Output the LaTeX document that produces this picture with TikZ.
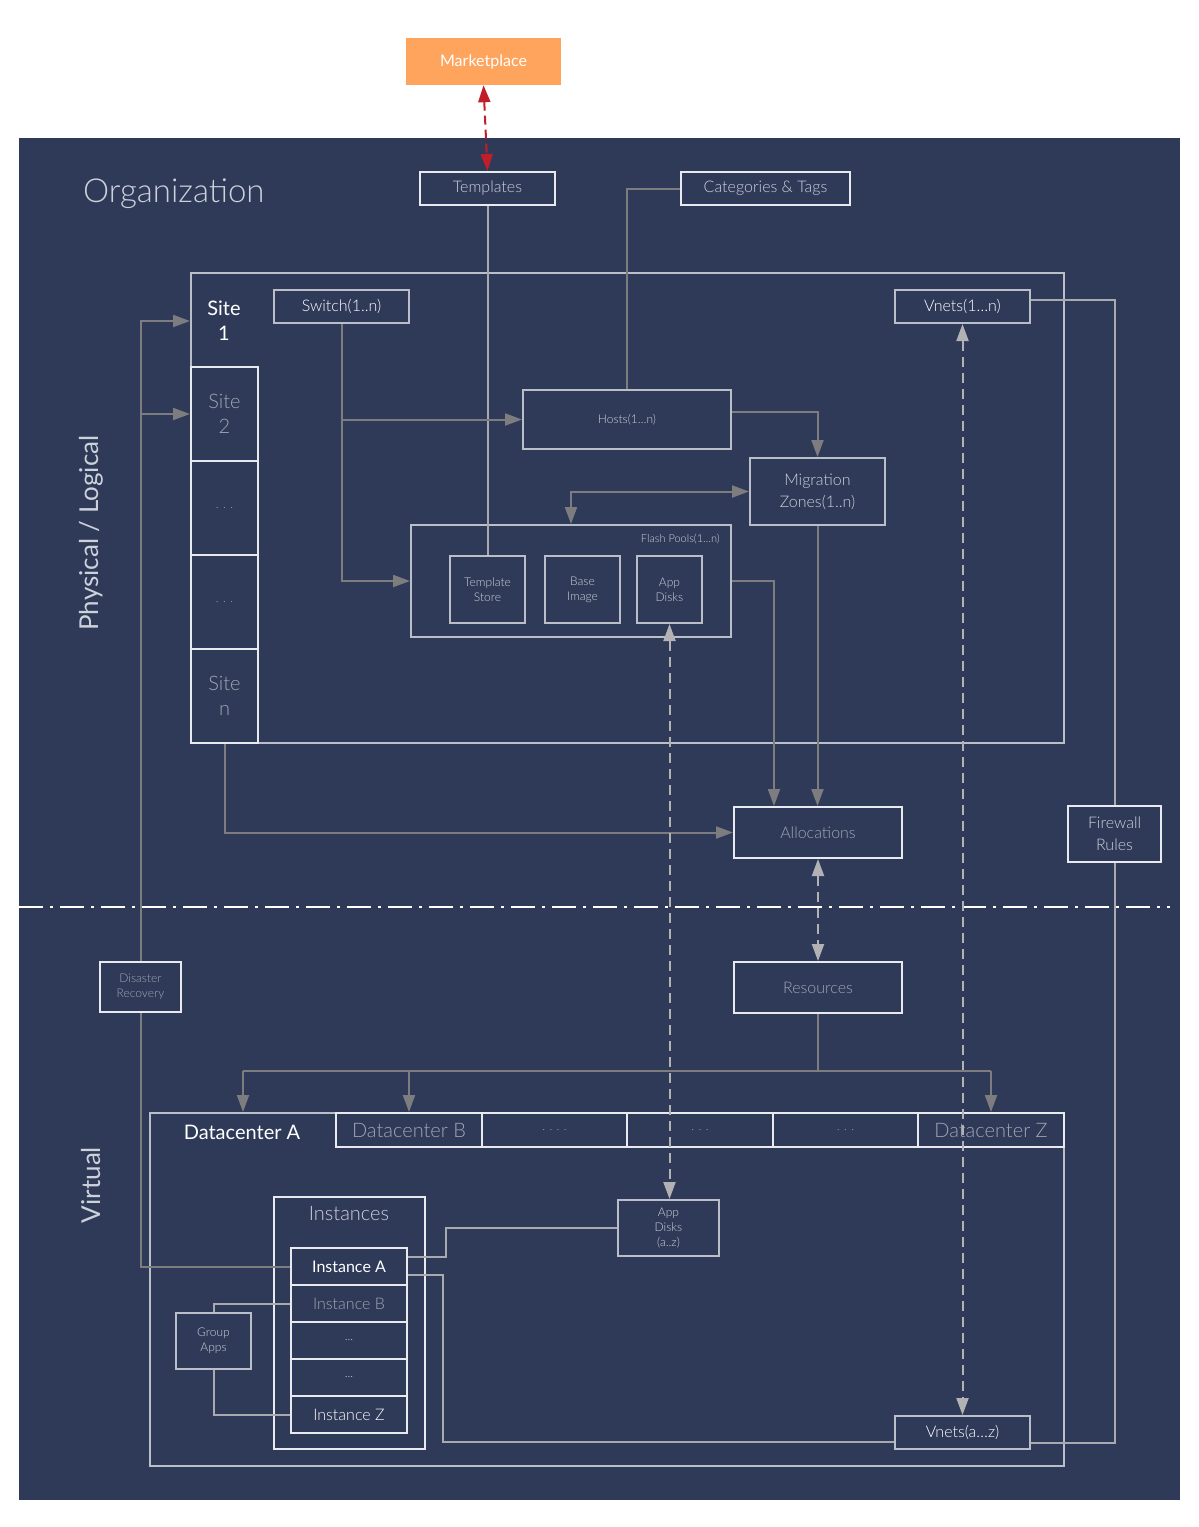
\documentclass[tikz,border=0pt]{standalone}
\usepackage{fontspec}
\IfFontExistsTF{Lato Light}{\setmainfont{Lato Light}[BoldFont=Lato]}{\setmainfont{Lato}[BoldFont=Lato]}
\usetikzlibrary{arrows.meta}
\definecolor{bgblue}{RGB}{46,58,88}
\definecolor{mktorange}{RGB}{255,164,92}
\definecolor{mktred}{RGB}{192,30,40}
\definecolor{boxW}{RGB}{232,234,240}
\definecolor{boxG}{RGB}{186,190,200}
\definecolor{connD}{RGB}{125,125,128}
\definecolor{connL}{RGB}{168,170,175}
\definecolor{dashC}{RGB}{178,178,180}
\definecolor{txtL}{RGB}{205,209,218}
\definecolor{txtD}{RGB}{160,166,180}
\newcommand\fsXL{\fontsize{33}{40}\selectfont}
\newcommand\fsL{\fontsize{26}{30}\selectfont}
\newcommand\fsM{\fontsize{20}{25}\selectfont}
\newcommand\fsN{\fontsize{16}{22}\selectfont}
\newcommand\fsS{\fontsize{12}{15}\selectfont}
\newcommand\fsT{\fontsize{11}{14}\selectfont}
\begin{document}
\begin{tikzpicture}[x=1pt,y=-1pt,
  box/.style={draw=boxW, line width=2pt, inner sep=0pt, align=center, text=txtL, font=\fsN},
  gbox/.style={box, draw=boxG},
  conn/.style={draw=connD, line width=2pt},
  connl/.style={draw=connL, line width=2pt},
  arr/.style={-{Triangle[length=17pt,width=12pt]}},
  darr/.style={{Triangle[length=17pt,width=12pt]}-{Triangle[length=17pt,width=12pt]}},
  dashln/.style={draw=dashC, line width=2pt, dash pattern=on 10pt off 6pt},
  lbl/.style={inner sep=0pt, align=center}
]
\useasboundingbox (0,0) rectangle (1199,1527);
\fill[white] (0,0) rectangle (1199,1527);
\fill[bgblue] (19,138) rectangle (1180,1500);

% top
\node[lbl, fill=mktorange, minimum width=155pt, minimum height=47pt, text=white, font=\bfseries\fsN] (mkt) at (483.5,61.5) {Marketplace};
\node[lbl, text=txtL, font=\fsXL, anchor=west] (org) at (83,194) {Organization};
\node[box, minimum width=135pt, minimum height=33pt] (tmpl) at (487.5,188.5) {Templates};
\node[box, minimum width=169pt, minimum height=33pt] (cat) at (765.5,188.5) {Categories \& Tags};

% side labels
\node[lbl, text=txtL, font=\bfseries\fsL, rotate=90] (phys) at (91,533) {Physical / Logical};
\node[lbl, text=txtL, font=\bfseries\fsL, rotate=90] (virt) at (91,1185) {Virtual};

% site region
\node[gbox, minimum width=873pt, minimum height=470pt] (site) at (627.5,508) {};
\node[lbl, text=white, font=\bfseries\fsM] (site1) at (224,321) {Site\\1};
\node[box, minimum width=67pt, minimum height=94pt, text=txtD, font=\fsM] (site2) at (224.5,414) {Site\\2};
\node[box, minimum width=67pt, minimum height=94pt, text=txtD, font=\fsS] (sdotsA) at (224.5,508) {. . .};
\node[box, minimum width=67pt, minimum height=94pt, text=txtD, font=\fsS] (sdotsB) at (224.5,602) {. . .};
\node[box, minimum width=67pt, minimum height=94pt, text=txtD, font=\fsM] (siten) at (224.5,696) {Site\\n};
\node[gbox, minimum width=135pt, minimum height=33pt, text=white] (switch) at (341.5,306.5) {Switch(1..n)};
\node[gbox, minimum width=135pt, minimum height=33pt, text=white] (vnets1) at (962.5,306.5) {Vnets(1…n)};
\node[gbox, minimum width=208pt, minimum height=59pt, font=\fsS] (hosts) at (627,419.5) {Hosts(1…n)};
\node[gbox, minimum width=135pt, minimum height=67pt] (mig) at (817.5,491.5) {Migration\\Zones(1..n)};
\node[gbox, minimum width=320pt, minimum height=112pt] (flash) at (571,581) {};
\node[lbl, text=txtL, font=\fsT, anchor=east] (flashlbl) at (720,539) {Flash Pools(1…n)};
\node[gbox, minimum width=75pt, minimum height=67pt, font=\fsS] (tstore) at (487.5,589.5) {Template\\Store};
\node[gbox, minimum width=75pt, minimum height=67pt, font=\fsS] (bimg) at (582.5,589.5) {Base\\Image};
\node[gbox, minimum width=65pt, minimum height=67pt, font=\fsS] (adisk) at (669.5,589.5) {App\\Disks};

\node[box, minimum width=168pt, minimum height=51pt, text=txtD] (alloc) at (818,832.5) {Allocations};
\node[box, minimum width=93pt, minimum height=56pt] (fw) at (1114.5,834) {Firewall\\Rules};
\node[box, minimum width=81pt, minimum height=50pt, text=txtD, font=\fsS] (dr) at (140.5,987) {Disaster\\Recovery};
\node[box, minimum width=168pt, minimum height=51pt, text=txtD] (res) at (818,987.5) {Resources};

% divider
\coordinate (divL) at (19,907);
\coordinate (divR) at (1170,907);
\draw[white, line width=2pt, dash pattern=on 24pt off 7pt on 3pt off 7pt] (divL) -- (divR);

% datacenter region
\node[gbox, minimum width=914pt, minimum height=353pt] (dc) at (607,1289.5) {};
\node[lbl, text=white, font=\bfseries\fsM] (dcA) at (242,1132) {Datacenter A};
\node[box, minimum width=146pt, minimum height=34pt, text=txtD, font=\fsM] (dcB) at (409,1130) {Datacenter B};
\node[box, minimum width=145pt, minimum height=34pt, text=txtD, font=\fsS] (tabA) at (554.5,1130) {. . . .};
\node[box, minimum width=146pt, minimum height=34pt, text=txtD, font=\fsS] (tabB) at (700,1130) {. . .};
\node[box, minimum width=145pt, minimum height=34pt, text=txtD, font=\fsS] (tabC) at (845.5,1130) {. . .};
\node[box, minimum width=146pt, minimum height=34pt, text=txtD, font=\fsM] (dcZ) at (991,1130) {Datacenter Z};

\node[box, minimum width=151pt, minimum height=252pt] (inst) at (349.5,1323) {};
\node[lbl, text=txtL, font=\fsM] (instlbl) at (349,1213) {Instances};
\node[box, minimum width=116pt, minimum height=37pt, text=white, font=\bfseries\fsN] (instA) at (349,1266.5) {Instance A};
\node[box, minimum width=116pt, minimum height=37pt, text=txtD] (instB) at (349,1303.5) {Instance B};
\node[box, minimum width=116pt, minimum height=37pt, font=\fsS] (instC) at (349,1340.5) {...};
\node[box, minimum width=116pt, minimum height=37pt, font=\fsS] (instD) at (349,1377.5) {...};
\node[box, minimum width=116pt, minimum height=37pt, text=white] (instZ) at (349,1414.5) {Instance Z};
\node[gbox, minimum width=101pt, minimum height=56pt, font=\fsS] (adz) at (668.5,1228) {App\\Disks\\(a..z)};
\node[gbox, minimum width=135pt, minimum height=33pt, text=white] (vnz) at (962.5,1432.5) {Vnets(a…z)};
\node[gbox, minimum width=75pt, minimum height=56pt, font=\fsS] (grp) at (213.5,1341) {Group\\Apps};

% connectors
\draw[mktred, line width=2pt, dash pattern=on 9pt off 5pt, darr] (mkt.south) -- (tmpl.north);
\draw[connl] (tmpl.south) -- (tstore.north);
\draw[conn] (cat.west) -| (hosts.north);
\draw[conn, arr] (switch.south) |- (hosts.west);
\draw[conn, arr] (switch.south) |- (flash.west);
\draw[conn, arr] ([yshift=7.5pt]hosts.east) -| (mig.north);
\draw[conn, darr] (mig.west) -| (flash.north);
\draw[conn, arr] (flash.east) -| ([xshift=-44pt]alloc.north);
\draw[conn, arr] (mig.south) -- (mig.south |- alloc.north);
\draw[conn, arr] (siten.south) |- (alloc.west);
\draw[connl] ([yshift=6.5pt]vnets1.east) -| (fw.north);
\draw[connl] (fw.south) |- ([yshift=-10.5pt]vnz.east);

\coordinate (s1in) at (190,321);
\draw[conn, arr] (dr.north) |- (s1in);
\draw[conn, arr] (dr.north |- site2.west) -- (site2.west);
\draw[conn] (dr.south) |- (instA.west);

\draw[dashln, darr] (adisk.south) -- (adisk.south |- adz.north);
\draw[dashln, darr] (vnets1.south) -- (vnz.north);
\draw[dashln, darr] (alloc.south) -- (res.north);

\coordinate (busL) at (243,1071);
\coordinate (busR) at (991,1071);
\draw[conn] (busL) -- (busR);
\draw[conn] (res.south) -- (res.south |- busL);
\draw[conn, arr] (busL) -- (busL |- dc.north);
\draw[conn, arr] (dcB.north |- busL) -- (dcB.north);
\draw[conn, arr] (busR) -- (dcZ.north);

\draw[connl] ([yshift=10pt]instA.east) -- ++(38,0) |- (adz.west);
\draw[connl] ([yshift=-8.5pt]instA.east) -- ++(35,0) |- ([yshift=-9.5pt]vnz.west);
\draw[connl] (grp.north) |- (instB.west);
\draw[connl] (grp.south) |- (instZ.west);
\end{tikzpicture}
\end{document}
